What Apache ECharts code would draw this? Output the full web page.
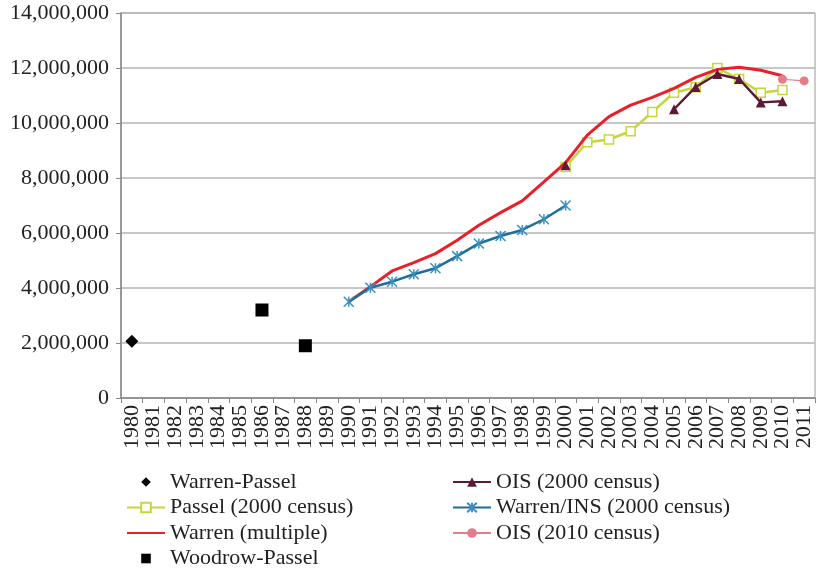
<!DOCTYPE html>
<html>
<head>
<meta charset="utf-8">
<script src="https://cdn.jsdelivr.net/npm/echarts@6/dist/echarts.min.js"></script>
<style>html,body{margin:0;padding:0;background:#fff;}#c{width:818px;height:572px;}</style>
</head>
<body>
<div id="c"></div>
<script>
const years = ['1980','1981','1982','1983','1984','1985','1986','1987','1988','1989','1990','1991','1992','1993','1994','1995','1996','1997','1998','1999','2000','2001','2002','2003','2004','2005','2006','2007','2008','2009','2010','2011'];
const yTicks = [0, 2000000, 4000000, 6000000, 8000000, 10000000, 12000000, 14000000];

const warrenPassel = [['1980', 2060000]];
const woodrowPassel = [['1986', 3200000], ['1988', 1900000]];
const passel2000 = [['2000', 8400000], ['2001', 9300000], ['2002', 9400000], ['2003', 9700000], ['2004', 10400000], ['2005', 11100000], ['2006', 11300000], ['2007', 12000000], ['2008', 11600000], ['2009', 11100000], ['2010', 11200000]];
const warrenMultiple = [['1990', 3500000], ['1991', 4050000], ['1992', 4620000], ['1993', 4920000], ['1994', 5250000], ['1995', 5740000], ['1996', 6280000], ['1997', 6740000], ['1998', 7170000], ['1999', 7860000], ['2000', 8560000], ['2001', 9560000], ['2002', 10230000], ['2003', 10650000], ['2004', 10930000], ['2005', 11260000], ['2006', 11660000], ['2007', 11950000], ['2008', 12030000], ['2009', 11920000], ['2010', 11720000]];
const ois2000 = [['2000', 8460000], ['2001', null], ['2005', 10500000], ['2006', 11310000], ['2007', 11780000], ['2008', 11600000], ['2009', 10750000], ['2010', 10790000]];
const warrenINS = [['1990', 3500000], ['1991', 4010000], ['1992', 4230000], ['1993', 4500000], ['1994', 4720000], ['1995', 5160000], ['1996', 5620000], ['1997', 5890000], ['1998', 6110000], ['1999', 6500000], ['2000', 7000000]];
const ois2010 = [['2010', 11590000], ['2011', 11530000]];

const FONT = 'Liberation Serif';
const star = 'path://M0,0 L10,10 M10,0 L0,10 M5,0 L5,10';

const chart = echarts.init(document.getElementById('c'));
chart.setOption({
  animation: false,
  backgroundColor: '#fff',
  grid: {left: 121, right: 3, top: 13, bottom: 174, show: true, borderColor: '#999', borderWidth: 1},
  legend: [
    {
      data: ['Warren-Passel', 'Passel (2000 census)', 'Warren (multiple)', 'Woodrow-Passel'],
      orient: 'vertical', left: 126, top: 471, padding: 0, itemWidth: 38, itemHeight: 12, itemGap: 3.5,
      textStyle: {fontFamily: FONT, fontSize: 22, color: '#222'}
    },
    {
      data: ['OIS (2000 census)', 'Warren/INS (2000 census)', 'OIS (2010 census)'],
      orient: 'vertical', left: 452, top: 471, padding: 0, itemWidth: 38, itemHeight: 12, itemGap: 3.5,
      textStyle: {fontFamily: FONT, fontSize: 22, color: '#222'}
    }
  ],
  xAxis: {
    type: 'category', data: years, boundaryGap: true,
    axisLine: {lineStyle: {color: '#888', width: 1.5}},
    axisTick: {show: true, interval: 0, length: 5, lineStyle: {color: '#888'}},
    axisLabel: {interval: 0, rotate: 90, margin: 7, fontFamily: FONT, fontSize: 22, color: '#222'}
  },
  yAxis: {
    type: 'value', min: 0, max: 14000000, interval: 2000000,
    axisLine: {show: true, lineStyle: {color: '#888', width: 1.5}},
    axisTick: {show: true, length: 5, lineStyle: {color: '#888'}},
    splitLine: {lineStyle: {color: '#b4b4b4', width: 1.5}},
    axisLabel: {margin: 12, fontFamily: FONT, fontSize: 22, color: '#222',
      formatter: v => String(v).replace(/\B(?=(\d{3})+(?!\d))/g, ',')}
  },
  series: [
    {name: 'Warren-Passel', type: 'line', data: warrenPassel, symbol: 'diamond', symbolSize: 13,
      itemStyle: {color: '#000'}, lineStyle: {opacity: 0}, z: 5},
    {name: 'Passel (2000 census)', type: 'line', data: passel2000, symbol: 'rect', symbolSize: 9,
      itemStyle: {color: '#fff', borderColor: '#c6d63c', borderWidth: 1.5},
      lineStyle: {color: '#c6d63c', width: 2.5}, z: 2},
    {name: 'Warren (multiple)', type: 'line', data: warrenMultiple, symbol: 'none', showSymbol: false,
      itemStyle: {color: '#e8202a', opacity: 0}, lineStyle: {color: '#e8202a', width: 3}, z: 3},
    {name: 'Woodrow-Passel', type: 'line', data: woodrowPassel, symbol: 'rect', symbolSize: 13,
      itemStyle: {color: '#000'}, lineStyle: {opacity: 0}, z: 5},
    {name: 'OIS (2000 census)', type: 'line', data: ois2000, symbol: 'triangle', symbolSize: 10,
      connectNulls: false,
      itemStyle: {color: '#5c1a35'}, lineStyle: {color: '#5c1a35', width: 2.5}, z: 4},
    {name: 'Warren/INS (2000 census)', type: 'line', data: warrenINS, symbol: star, symbolSize: 10,
      itemStyle: {color: '#1c6e9b', borderColor: '#3a90c0', borderWidth: 1.5},
      lineStyle: {color: '#1c6e9b', width: 2.5}, z: 4},
    {name: 'OIS (2010 census)', type: 'line', data: ois2010, symbol: 'circle', symbolSize: 9,
      itemStyle: {color: '#e47d8a'}, lineStyle: {color: '#e47d8a', width: 1.2}, z: 4}
  ]
});
</script>
</body>
</html>
